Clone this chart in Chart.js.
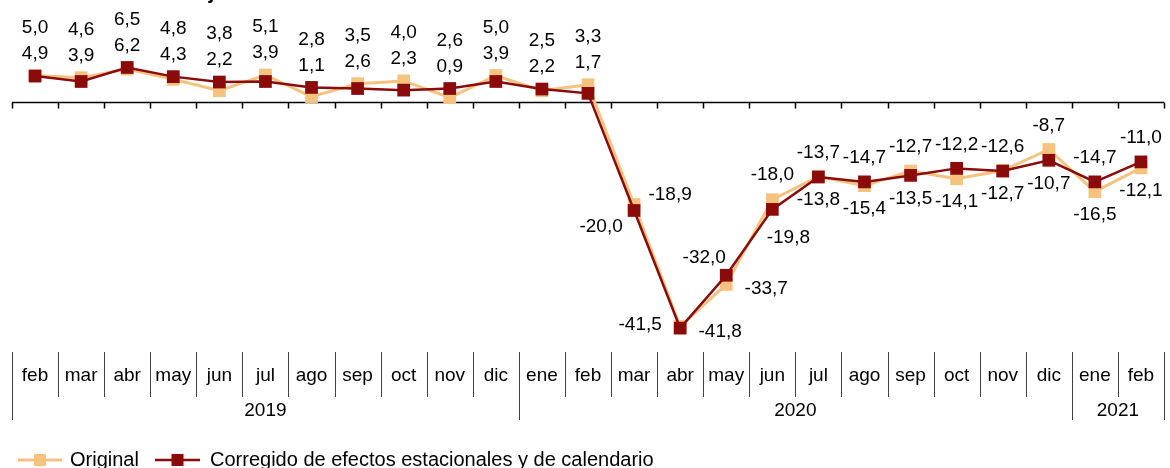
<!DOCTYPE html>
<html>
<head>
<meta charset="utf-8">
<script src="https://cdn.jsdelivr.net/npm/chart.js@4.4.0/dist/chart.umd.min.js"></script>
<style>
  html, body { margin: 0; padding: 0; background: #fff; }
  #wrap { position: relative; width: 1170px; height: 468px; }
</style>
</head>
<body>
<div id="wrap"><canvas id="chart"></canvas></div>
<script>
// Data
const months = ['feb', 'mar', 'abr', 'may', 'jun', 'jul', 'ago', 'sep', 'oct', 'nov', 'dic',
                'ene', 'feb', 'mar', 'abr', 'may', 'jun', 'jul', 'ago', 'sep', 'oct', 'nov', 'dic',
                'ene', 'feb'];
const yearLabels = ['2019', '2020', '2021'];
const yearStarts = [0, 11, 23];
const original = [5.0, 4.6, 6.2, 4.3, 2.2, 5.1, 1.1, 3.5, 4.0, 0.9, 5.0, 2.2, 3.3,
                  -18.9, -41.5, -33.7, -18.0, -13.7, -15.4, -12.7, -14.1, -12.6, -8.7, -16.5, -12.1];
const corrected = [4.9, 3.9, 6.5, 4.8, 3.8, 3.9, 2.8, 2.6, 2.3, 2.6, 3.9, 2.5, 1.7,
                   -20.0, -41.8, -32.0, -19.8, -13.8, -14.7, -13.5, -12.2, -12.7, -10.7, -14.7, -11.0];

// Label placement overrides on the steep stretch of 2020
const originalPlace = { 13: 'ur', 14: 'l', 15: 'r', 16: 'u' };
const correctedPlace = { 13: 'dl', 14: 'r', 15: 'ul', 16: 'dr' };
const placeOffsets = { ur: [36, -10], dl: [-33, 16], l: [-40, -2], r: [40, 4], ul: [-22, -17], u: [0, -25], dr: [16, 28] };

const ORANGE = '#F6C37F';
const RED = '#8B0B0B';
const FONT = '"Liberation Sans", Arial, sans-serif';

const fmt = v => v.toFixed(1).replace('.', ',');

// Axis, category labels, legend and title
const decorPlugin = {
    id: 'decor',
    beforeDatasetsDraw(chart) {
        const ctx = chart.ctx;
        const x = chart.scales.x;
        const y = chart.scales.y;
        const step = x.getPixelForValue(1) - x.getPixelForValue(0);
        const left = x.getPixelForValue(0) - step / 2;
        const y0 = y.getPixelForValue(0);
        ctx.save();
        ctx.strokeStyle = '#000';
        ctx.lineWidth = 1.5;
        ctx.beginPath();
        ctx.moveTo(left, y0);
        ctx.lineTo(left + step * months.length, y0);
        for (let k = 0; k <= months.length; k++) {
            const bx = Math.round(left + step * k) + 0.5;
            ctx.moveTo(bx, y0);
            ctx.lineTo(bx, y0 + 6);
        }
        ctx.stroke();
        ctx.restore();
    },
    afterDraw(chart) {
        const ctx = chart.ctx;
        const x = chart.scales.x;
        const step = x.getPixelForValue(1) - x.getPixelForValue(0);
        const left = x.getPixelForValue(0) - step / 2;
        ctx.save();

        // month / year separators
        ctx.strokeStyle = '#404040';
        ctx.lineWidth = 1;
        ctx.beginPath();
        for (let k = 0; k <= months.length; k++) {
            const bx = Math.round(left + step * k) + 0.5;
            const isYear = k === months.length || yearStarts.includes(k);
            ctx.moveTo(bx, 352);
            ctx.lineTo(bx, isYear ? 420 : 397);
        }
        ctx.stroke();

        ctx.fillStyle = '#000';
        ctx.font = '19px ' + FONT;
        ctx.textAlign = 'center';
        ctx.textBaseline = 'middle';
        months.forEach((m, i) => ctx.fillText(m, x.getPixelForValue(i), 376));
        yearLabels.forEach((lab, j) => {
            const a = yearStarts[j];
            const b = j + 1 < yearStarts.length ? yearStarts[j + 1] : months.length;
            ctx.fillText(lab, left + step * (a + b) / 2, 411);
        });

        // legend
        const legendY = 460;
        [[ORANGE, 18, 62, 3, 'Original', 70], [RED, 155, 200, 2.5, 'Corregido de efectos estacionales y de calendario', 210]]
            .forEach(([col, x1, x2, lw, text, tx]) => {
                ctx.strokeStyle = col;
                ctx.lineWidth = lw;
                ctx.beginPath();
                ctx.moveTo(x1, legendY);
                ctx.lineTo(x2, legendY);
                ctx.stroke();
                ctx.fillStyle = col;
                ctx.fillRect((x1 + x2) / 2 - 6, legendY - 6, 12, 12);
                ctx.fillStyle = '#000';
                ctx.font = '20px ' + FONT;
                ctx.textAlign = 'left';
                ctx.fillText(text, tx, legendY);
            });

        // cropped title
        ctx.font = 'bold 21px ' + FONT;
        ctx.textBaseline = 'alphabetic';
        ctx.fillText('Tasa anual. Porcentaje', 0, -1);
        ctx.restore();
    }
};

// Value labels next to the points
const labelPlugin = {
    id: 'valueLabels',
    afterDatasetsDraw(chart) {
        const ctx = chart.ctx;
        const metas = [chart.getDatasetMeta(0), chart.getDatasetMeta(1)];
        const series = [original, corrected];
        const places = [originalPlace, correctedPlace];
        ctx.save();
        ctx.fillStyle = '#000';
        ctx.font = '19px ' + FONT;
        ctx.textAlign = 'center';
        ctx.textBaseline = 'middle';
        for (let i = 0; i < months.length; i++) {
            const pts = [metas[0].data[i], metas[1].data[i]];
            const hi = series[0][i] >= series[1][i] ? 0 : 1;
            const lo = 1 - hi;
            const pos = [];
            if (series[0][i] >= 0 && series[1][i] >= 0) {
                const top = Math.min(pts[0].y, pts[1].y);
                pos[hi] = [pts[hi].x, top - 48];
                pos[lo] = [pts[lo].x, top - 22];
            } else {
                pos[hi] = [pts[hi].x, pts[hi].y - 24];
                pos[lo] = [pts[lo].x, pts[lo].y + 23];
            }
            for (let s = 0; s < 2; s++) {
                const code = places[s][i];
                if (code) {
                    const [dx, dy] = placeOffsets[code];
                    pos[s] = [pts[s].x + dx, pts[s].y + dy];
                }
                ctx.fillText(fmt(series[s][i]), pos[s][0], pos[s][1]);
            }
        }
        ctx.restore();
    }
};

const chart = new Chart(document.getElementById('chart'), {
    type: 'line',
    data: {
        labels: months.map((m, i) => m + i),
        datasets: [
            {
                label: 'Original',
                data: original,
                borderColor: ORANGE,
                backgroundColor: ORANGE,
                borderWidth: 3,
                pointStyle: 'rect',
                pointRadius: 9,
                pointBorderWidth: 0,
                tension: 0,
                order: 1
            },
            {
                label: 'Corregido de efectos estacionales y de calendario',
                data: corrected,
                borderColor: RED,
                backgroundColor: RED,
                borderWidth: 2.5,
                pointStyle: 'rect',
                pointRadius: 9,
                pointBorderWidth: 0,
                tension: 0,
                order: 0
            }
        ]
    },
    options: {
        responsive: true,
        maintainAspectRatio: false,
        animation: false,
        layout: { autoPadding: false, padding: { left: 12, right: 6, top: 0, bottom: 128 } },
        plugins: {
            legend: { display: false },
            tooltip: { enabled: false },
            title: { display: false }
        },
        scales: {
            x: { type: 'category', offset: true, display: false },
            y: { min: -44, max: 19, display: false }
        }
    },
    plugins: [decorPlugin, labelPlugin]
});
</script>
</body>
</html>
